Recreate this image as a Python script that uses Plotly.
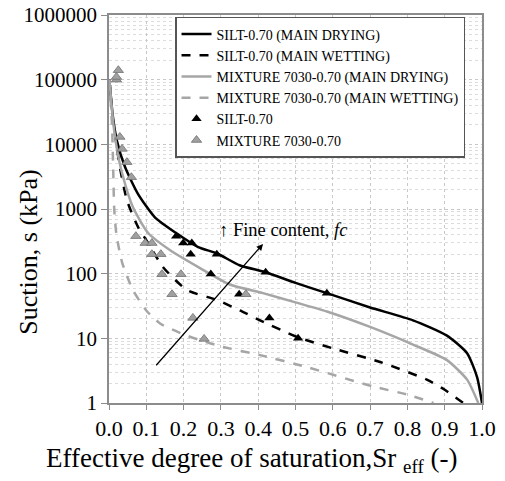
import plotly.graph_objects as go

# ---- data ----
silt_dry_x = [0.001, 0.01, 0.021, 0.043, 0.078, 0.123, 0.18, 0.239, 0.29, 0.35, 0.42, 0.5, 0.584, 0.7, 0.815, 0.906, 0.96, 0.987, 1.0]
silt_dry_y = [100000, 28000, 11500, 4460, 1700, 745, 425, 258, 205, 135, 105, 72, 50, 30, 19, 11, 5.9, 2.5, 1]

silt_wet_x = [0.001, 0.01, 0.021, 0.029, 0.048, 0.078, 0.105, 0.145, 0.209, 0.29, 0.351, 0.405, 0.504, 0.6, 0.727, 0.852, 0.9, 0.95]
silt_wet_y = [100000, 25000, 9100, 4460, 1370, 525, 297, 126, 56, 39, 27, 19, 10.5, 7, 4.3, 2.3, 1.6, 1.0]

mix_dry_x = [0.001, 0.012, 0.022, 0.035, 0.064, 0.105, 0.164, 0.244, 0.324, 0.413, 0.5, 0.584, 0.70, 0.815, 0.906, 0.96, 0.99]
mix_dry_y = [100000, 20000, 8000, 3600, 1070, 425, 230, 122, 68, 50, 36, 26, 15, 8, 4.6, 2.3, 1.0]

mix_wet_x = [0.001, 0.008, 0.011, 0.014, 0.02, 0.035, 0.064, 0.1, 0.137, 0.2, 0.244, 0.3, 0.405, 0.53, 0.708, 0.8, 0.87]
mix_wet_y = [100000, 20000, 5000, 1000, 400, 150, 56, 27, 17, 11.5, 9.4, 7.5, 5.5, 3.6, 1.8, 1.35, 1.0]

silt_pts_x = [0.18, 0.199, 0.222, 0.219, 0.289, 0.273, 0.349, 0.42, 0.584, 0.43, 0.507]
silt_pts_y = [380, 297, 297, 200, 200, 99, 48, 105, 50, 20.7, 10]

mix_pts_x = [0.02, 0.02, 0.025, 0.029, 0.035, 0.048, 0.06, 0.072, 0.097, 0.115, 0.115, 0.139, 0.142, 0.193, 0.169, 0.367, 0.225, 0.255]
mix_pts_y = [100000, 110000, 140000, 13000, 8500, 5300, 3100, 380, 297, 297, 200, 200, 98, 98, 48, 48, 20.7, 9.8]

y_tick_vals = [1, 10, 100, 1000, 10000, 100000, 1000000]
y_tick_text = ["1", "10", "100", "1000", "10000", "100000", "1000000"]
x_tick_vals = [0.0, 0.1, 0.2, 0.3, 0.4, 0.5, 0.6, 0.7, 0.8, 0.9, 1.0]
x_tick_text = ["0.0", "0.1", "0.2", "0.3", "0.4", "0.5", "0.6", "0.7", "0.8", "0.9", "1.0"]

FONT = "Liberation Serif, Times New Roman, serif"
GRAY = "#a6a6a6"

fig = go.Figure()
fig.add_trace(go.Scatter(x=silt_dry_x, y=silt_dry_y, mode="lines", name="SILT-0.70 (MAIN DRYING)",
                         line=dict(color="black", width=2.5, shape="spline", smoothing=0.6)))
fig.add_trace(go.Scatter(x=silt_wet_x, y=silt_wet_y, mode="lines", name="SILT-0.70 (MAIN WETTING)",
                         line=dict(color="black", width=2.5, dash="dash", shape="spline", smoothing=0.6)))
fig.add_trace(go.Scatter(x=mix_dry_x, y=mix_dry_y, mode="lines", name="MIXTURE 7030-0.70 (MAIN DRYING)",
                         line=dict(color=GRAY, width=2.5, shape="spline", smoothing=0.6)))
fig.add_trace(go.Scatter(x=mix_wet_x, y=mix_wet_y, mode="lines", name="MIXTURE 7030-0.70 (MAIN WETTING)",
                         line=dict(color=GRAY, width=2.5, dash="dash", shape="spline", smoothing=0.6)))
fig.add_trace(go.Scatter(x=silt_pts_x, y=silt_pts_y, mode="markers", name="SILT-0.70",
                         marker=dict(symbol="triangle-up", size=9, color="black")))
fig.add_trace(go.Scatter(x=mix_pts_x, y=mix_pts_y, mode="markers", name="MIXTURE 7030-0.70",
                         marker=dict(symbol="triangle-up", size=9, color="#a0a0a0",
                                     line=dict(color="#707070", width=0.8))))

# Arrow for fine content
fig.add_annotation(x=0.413, y=2.46, ax=0.123, ay=0.56, xref="x", yref="y", axref="x", ayref="y",
                   showarrow=True, arrowhead=2, arrowsize=1, arrowwidth=1.3, arrowcolor="black", text="")
fig.add_annotation(x=0.29, y=2.68, xref="x", yref="y", xanchor="left", yanchor="middle",
                   text="↑ Fine content, <i>fc</i>", showarrow=False,
                   font=dict(family=FONT, size=18.5, color="black"))

# Axis titles as annotations
fig.add_annotation(x=(251 - 109) / 373, y=-0.148, xref="paper", yref="paper", xanchor="center", yanchor="middle",
                   text="Effective degree of saturation,Sr <sub>eff</sub> (-)", showarrow=False,
                   font=dict(family=FONT, size=27, color="black"))
fig.add_annotation(x=-0.218, y=(403 - 252) / 388, xref="paper", yref="paper", xanchor="center", yanchor="middle",
                   text="Suction, s (kPa)", textangle=-90, showarrow=False,
                   font=dict(family=FONT, size=26, color="black"))

axis_line = "#8c8c8c"
# The page body adds an 8px offset; size and margins compensate so the plot area
# lands at x 109..482, y 15..403 in the 505x481 window.
fig.update_layout(
    width=497, height=473,
    margin=dict(l=101, r=23, t=7, b=78, autoexpand=False),
    paper_bgcolor="white", plot_bgcolor="white",
    font=dict(family=FONT, color="black"),
    showlegend=True,
    legend=dict(x=0.177, y=0.995, xanchor="left", yanchor="top",
                bgcolor="white", bordercolor="#555555", borderwidth=1.5,
                font=dict(family=FONT, size=14, color="black"),
                itemwidth=30, tracegroupgap=0),
    xaxis=dict(range=[0, 1.0], tickvals=x_tick_vals, ticktext=x_tick_text, automargin=False,
               showgrid=True, gridcolor="#c8c8c8", griddash="dot", gridwidth=1,
               showline=True, linecolor=axis_line, linewidth=1.5, mirror=True,
               ticks="outside", ticklen=5, tickcolor=axis_line, ticklabeloverflow="allow",
               tickfont=dict(family=FONT, size=22, color="black"), zeroline=False),
    yaxis=dict(type="log", range=[0, 6], tickvals=y_tick_vals, ticktext=y_tick_text, automargin=False,
               showgrid=True, gridcolor="#c8c8c8", griddash="dot", gridwidth=1,
               minor=dict(dtick="D1", showgrid=True, gridcolor="#dcdcdc", griddash="dot", ticks=""),
               showline=True, linecolor=axis_line, linewidth=1.5, mirror=True,
               ticks="outside", ticklen=6, tickcolor=axis_line, ticklabeloverflow="allow",
               tickfont=dict(family=FONT, size=21, color="black"), zeroline=False),
)

fig.write_html("out.html")
